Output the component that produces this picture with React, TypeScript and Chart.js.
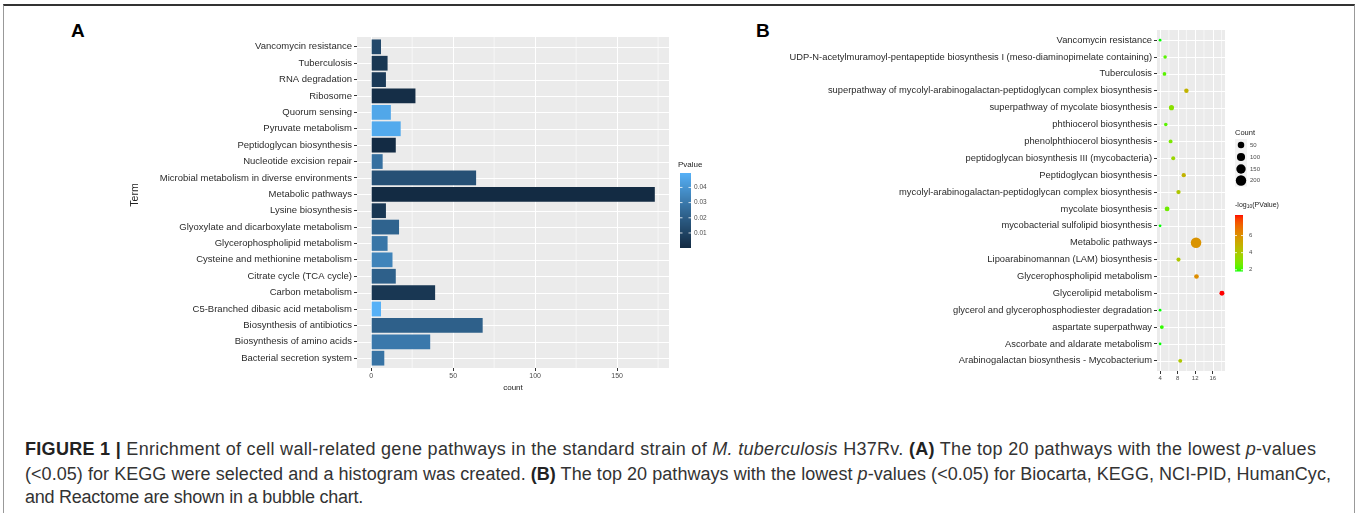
import React, { useEffect, useRef } from "react";
import { Chart, registerables } from "chart.js";
Chart.register(...registerables);

// ---------------- Data: panel A (KEGG histogram) ----------------
const termsA = [
  "Vancomycin resistance",
  "Tuberculosis",
  "RNA degradation",
  "Ribosome",
  "Quorum sensing",
  "Pyruvate metabolism",
  "Peptidoglycan biosynthesis",
  "Nucleotide excision repair",
  "Microbial metabolism in diverse environments",
  "Metabolic pathways",
  "Lysine biosynthesis",
  "Glyoxylate and dicarboxylate metabolism",
  "Glycerophospholipid metabolism",
  "Cysteine and methionine metabolism",
  "Citrate cycle (TCA cycle)",
  "Carbon metabolism",
  "C5-Branched dibasic acid metabolism",
  "Biosynthesis of antibiotics",
  "Biosynthesis of amino acids",
  "Bacterial secretion system",
];
const countA = [6, 10, 9, 27, 12, 18, 15, 7, 64, 173, 9, 17, 10, 13, 15, 39, 6, 68, 36, 8];
const pvalueA = [
  0.012, 0.005, 0.0065, 0.0015, 0.046, 0.047, 0.0003, 0.027, 0.015, 0.0001,
  0.005, 0.022, 0.029, 0.034, 0.021, 0.005, 0.0495, 0.021, 0.03, 0.028,
];
const countTicksA = [0, 50, 100, 150];
const pvalueLegendTicks = [0.01, 0.02, 0.03, 0.04];
const pvalueLegendLabels = ["0.01", "0.02", "0.03", "0.04"];

// ---------------- Data: panel B (bubble chart) ----------------
const termsB = [
  "Vancomycin resistance",
  "UDP-N-acetylmuramoyl-pentapeptide biosynthesis I (meso-diaminopimelate containing)",
  "Tuberculosis",
  "superpathway of mycolyl-arabinogalactan-peptidoglycan complex biosynthesis",
  "superpathway of mycolate biosynthesis",
  "phthiocerol biosynthesis",
  "phenolphthiocerol biosynthesis",
  "peptidoglycan biosynthesis III (mycobacteria)",
  "Peptidoglycan biosynthesis",
  "mycolyl-arabinogalactan-peptidoglycan complex biosynthesis",
  "mycolate biosynthesis",
  "mycobacterial sulfolipid biosynthesis",
  "Metabolic pathways",
  "Lipoarabinomannan (LAM) biosynthesis",
  "Glycerophospholipid metabolism",
  "Glycerolipid metabolism",
  "glycerol and glycerophosphodiester degradation",
  "aspartate superpathway",
  "Ascorbate and aldarate metabolism",
  "Arabinogalactan biosynthesis - Mycobacterium",
];
const xB = [4.0, 5.15, 5.0, 10.0, 6.6, 5.3, 6.4, 7.0, 9.4, 8.2, 5.6, 4.0, 12.2, 8.2, 12.3, 18.1, 4.0, 4.4, 4.0, 8.6];
const countB = [4, 6, 7, 14, 22, 6, 8, 9, 12, 12, 18, 4, 205, 10, 16, 20, 4, 8, 4, 9];
const logPB = [1.8, 2.3, 2.3, 4.8, 3.1, 2.3, 2.8, 3.5, 4.8, 4.1, 2.6, 1.8, 5.9, 4.1, 6.1, 8.4, 1.8, 1.95, 1.8, 4.1];
const xTicksB = [4, 8, 12, 16];
const countLegendB = [50, 100, 150, 200];
const logPLegendTicks = [2, 4, 6];

// ---------------- Helpers (styling) ----------------
const FONT = '"Liberation Sans", Arial, Helvetica, sans-serif';
Chart.defaults.font.family = FONT;

function toLin(c: number) {
  c /= 255;
  return c <= 0.04045 ? c / 12.92 : Math.pow((c + 0.055) / 1.055, 2.4);
}
function fromLin(c: number) {
  const v = c <= 0.0031308 ? 12.92 * c : 1.055 * Math.pow(c, 1 / 2.4) - 0.055;
  return Math.round(Math.max(0, Math.min(1, v)) * 255);
}
function rgbToLab(rgb: number[]) {
  const R = toLin(rgb[0]), G = toLin(rgb[1]), B = toLin(rgb[2]);
  const X = (0.4124 * R + 0.3576 * G + 0.1805 * B) / 0.95047;
  const Y = 0.2126 * R + 0.7152 * G + 0.0722 * B;
  const Z = (0.0193 * R + 0.1192 * G + 0.9505 * B) / 1.08883;
  const f = (t: number) => (t > 0.008856 ? Math.cbrt(t) : 7.787 * t + 16 / 116);
  const fx = f(X), fy = f(Y), fz = f(Z);
  return [116 * fy - 16, 500 * (fx - fy), 200 * (fy - fz)];
}
function labToRgb(lab: number[]) {
  const fy = (lab[0] + 16) / 116;
  const fx = fy + lab[1] / 500;
  const fz = fy - lab[2] / 200;
  const fi = (t: number) => (t * t * t > 0.008856 ? t * t * t : (t - 16 / 116) / 7.787);
  const X = fi(fx) * 0.95047, Y = fi(fy), Z = fi(fz) * 1.08883;
  const R = 3.2406 * X - 1.5372 * Y - 0.4986 * Z;
  const G = -0.9689 * X + 1.8758 * Y + 0.0415 * Z;
  const B = 0.0557 * X - 0.204 * Y + 1.057 * Z;
  return `rgb(${fromLin(R)},${fromLin(G)},${fromLin(B)})`;
}
function makeRamp(low: number[], high: number[]) {
  const a = rgbToLab(low), b = rgbToLab(high);
  return (t: number) => {
    const u = Math.max(0, Math.min(1, t));
    return labToRgb([a[0] + (b[0] - a[0]) * u, a[1] + (b[1] - a[1]) * u, a[2] + (b[2] - a[2]) * u]);
  };
}
const rampA = makeRamp([0x13, 0x2b, 0x43], [0x56, 0xb1, 0xf7]);
const rampB = makeRamp([0, 255, 0], [255, 0, 0]);
const pMin = Math.min(...pvalueA), pMax = Math.max(...pvalueA);
const lMin = Math.min(...logPB), lMax = Math.max(...logPB);
const cMin = Math.min(...countB), cMax = Math.max(...countB);
const colorA = (p: number) => rampA((p - pMin) / (pMax - pMin));
const colorB = (v: number) => rampB((v - lMin) / (lMax - lMin));
const radiusB = (c: number) => {
  const size = 1 + 5 * Math.sqrt(Math.max(0, (c - cMin) / (cMax - cMin)));
  return 0.78 * size + 0.6;
};

function minorBreaks(majors: number[]) {
  const step = majors[1] - majors[0];
  const out = [majors[0] - step / 2];
  majors.forEach((m) => out.push(m + step / 2));
  return out;
}

function crisp(v: number) {
  return Math.round(v) + 0.5;
}

function drawPanelGrid(chart: any, xMajors: number[], nCats: number) {
  const { ctx, chartArea, scales } = chart;
  const { left, right, top, bottom } = chartArea;
  ctx.save();
  ctx.fillStyle = "#EBEBEB";
  ctx.fillRect(left, top, right - left, bottom - top);
  ctx.strokeStyle = "#FFFFFF";
  ctx.lineWidth = 0.6;
  minorBreaks(xMajors).forEach((v) => {
    const px = scales.x.getPixelForValue(v);
    if (px > left && px < right) {
      ctx.beginPath();
      ctx.moveTo(px, top);
      ctx.lineTo(px, bottom);
      ctx.stroke();
    }
  });
  ctx.lineWidth = 1;
  xMajors.forEach((v) => {
    const px = crisp(scales.x.getPixelForValue(v));
    ctx.beginPath();
    ctx.moveTo(px, top);
    ctx.lineTo(px, bottom);
    ctx.stroke();
  });
  for (let i = 0; i < nCats; i++) {
    const py = crisp(scales.y.getPixelForValue(i));
    ctx.beginPath();
    ctx.moveTo(left, py);
    ctx.lineTo(right, py);
    ctx.stroke();
  }
  ctx.restore();
}

const panelAPlugin = {
  id: "panelA",
  beforeDatasetsDraw(chart: any) {
    drawPanelGrid(chart, countTicksA, termsA.length);
  },
  afterDraw(chart: any) {
    const ctx = chart.ctx;
    const ca = chart.chartArea;
    ctx.save();
    ctx.fillStyle = "#222";
    // axis titles
    ctx.font = `8px ${FONT}`;
    ctx.textAlign = "center";
    ctx.textBaseline = "middle";
    ctx.fillText("count", (ca.left + ca.right) / 2, 373);
    ctx.save();
    ctx.translate(75, 180);
    ctx.rotate(-Math.PI / 2);
    ctx.font = `10.5px ${FONT}`;
    ctx.fillText("Term", 0, 0);
    ctx.restore();
    // legend
    const bx = 620, bw = 11, bTop = 158, bBot = 233;
    ctx.textAlign = "left";
    ctx.font = `8px ${FONT}`;
    ctx.fillStyle = "#222";
    ctx.fillText("Pvalue", 618, 150);
    const h = bBot - bTop;
    for (let i = 0; i < h; i++) {
      const t = 1 - (i + 0.5) / h;
      ctx.fillStyle = rampA(t);
      ctx.fillRect(bx, bTop + i, bw, 1);
    }
    ctx.font = `6.5px ${FONT}`;
    pvalueLegendTicks.forEach((v, k) => {
      const y = bBot - ((v - pMin) / (pMax - pMin)) * h;
      ctx.strokeStyle = "#FFFFFF";
      ctx.lineWidth = 0.8;
      ctx.beginPath();
      ctx.moveTo(bx, y);
      ctx.lineTo(bx + 2.5, y);
      ctx.moveTo(bx + bw - 2.5, y);
      ctx.lineTo(bx + bw, y);
      ctx.stroke();
      ctx.fillStyle = "#4D4D4D";
      ctx.fillText(pvalueLegendLabels[k], bx + bw + 3, y);
    });
    ctx.restore();
  },
};

const panelBPlugin = {
  id: "panelB",
  beforeDatasetsDraw(chart: any) {
    drawPanelGrid(chart, xTicksB, termsB.length);
  },
  afterDraw(chart: any) {
    const ctx = chart.ctx;
    ctx.save();
    ctx.textAlign = "left";
    ctx.textBaseline = "middle";
    // size legend
    ctx.fillStyle = "#222";
    ctx.font = `7.5px ${FONT}`;
    ctx.fillText("Count", 480, 118);
    const ys = [130, 142, 154, 165.5];
    countLegendB.forEach((c, k) => {
      ctx.fillStyle = "#F2F2F2";
      ctx.fillRect(480, ys[k] - 6, 12, 12);
    });
    countLegendB.forEach((c, k) => {
      ctx.fillStyle = "#000";
      ctx.beginPath();
      ctx.arc(486, ys[k], radiusB(c), 0, Math.PI * 2);
      ctx.fill();
      ctx.fillStyle = "#4D4D4D";
      ctx.font = `6px ${FONT}`;
      ctx.fillText(String(c), 495, ys[k]);
    });
    // colour legend title with subscript
    ctx.fillStyle = "#222";
    let x = 480;
    const ty = 190;
    ctx.font = `7px ${FONT}`;
    ctx.fillText("-log", x, ty);
    x += ctx.measureText("-log").width;
    ctx.font = `5px ${FONT}`;
    ctx.fillText("10", x, ty + 2);
    x += ctx.measureText("10").width;
    ctx.font = `7px ${FONT}`;
    ctx.fillText("(PValue)", x, ty);
    // colour bar
    const bx = 480, bw = 8, bTop = 200, bBot = 256.5;
    const h = bBot - bTop;
    for (let i = 0; i < Math.ceil(h); i++) {
      const t = 1 - (i + 0.5) / h;
      ctx.fillStyle = rampB(t);
      ctx.fillRect(bx, bTop + i, bw, Math.min(1, bBot - bTop - i));
    }
    ctx.font = `6px ${FONT}`;
    logPLegendTicks.forEach((v) => {
      const y = bBot - ((v - lMin) / (lMax - lMin)) * h;
      ctx.strokeStyle = "#FFFFFF";
      ctx.lineWidth = 0.8;
      ctx.beginPath();
      ctx.moveTo(bx, y);
      ctx.lineTo(bx + 2, y);
      ctx.moveTo(bx + bw - 2, y);
      ctx.lineTo(bx + bw, y);
      ctx.stroke();
      ctx.fillStyle = "#4D4D4D";
      ctx.fillText(String(v), bx + bw + 6, y);
    });
    ctx.restore();
  },
};

function catAxis(labels: string[], width: number, fontSize: number) {
  return {
    type: "linear" as const,
    min: -0.6,
    max: labels.length - 0.4,
    reverse: true,
    offset: false,
    bounds: "data" as const,
    afterBuildTicks: (ax: any) => {
      ax.ticks = labels.map((_, i) => ({ value: i }));
    },
    afterFit: (ax: any) => {
      ax.width = width;
    },
    ticks: {
      autoSkip: false,
      callback: (v: any) => labels[v],
      font: { size: fontSize, family: FONT },
      color: "#2B2B2B",
      padding: 2,
    },
    grid: { offset: false, drawOnChartArea: false, drawTicks: true, tickLength: 3, color: "#333" },
    border: { display: false },
  };
}

function valAxis(min: number, max: number, ticks: number[], size: number) {
  return {
    type: "linear" as const,
    min,
    max,
    offset: false,
    bounds: "data" as const,
    afterBuildTicks: (ax: any) => {
      ax.ticks = ticks.map((v) => ({ value: v }));
    },
    afterFit: (ax: any) => {
      ax.height = 20;
    },
    ticks: {
      autoSkip: false,
      maxRotation: 0,
      font: { size, family: FONT },
      color: "#4D4D4D",
      padding: 1,
    },
    grid: { offset: false, drawOnChartArea: false, drawTicks: true, tickLength: 3, color: "#333" },
    border: { display: false },
  };
}

function PanelA() {
  const ref = useRef<HTMLCanvasElement>(null);
  useEffect(() => {
    const chart = new Chart(ref.current as HTMLCanvasElement, {
      type: "bar",
      data: {
        datasets: [
          {
            data: countA.map((c, i) => ({ x: c, y: i })) as any,
            backgroundColor: pvalueA.map(colorA),
            borderWidth: 0,
            barPercentage: 0.9,
            categoryPercentage: 1,
          },
        ],
      },
      options: {
        indexAxis: "y",
        animation: false,
        responsive: false,
        maintainAspectRatio: false,
        layout: { padding: { left: 0, top: 22, right: 71, bottom: 17 } },
        plugins: { legend: { display: false }, tooltip: { enabled: false } },
        scales: {
          x: valAxis(-8.65, 181.65, countTicksA, 7) as any,
          y: catAxis(termsA, 297, 9.5) as any,
        },
      },
      plugins: [panelAPlugin],
    });
    return () => chart.destroy();
  }, []);
  return (
    <canvas
      ref={ref}
      width={680}
      height={390}
      style={{ position: "absolute", left: 60, top: 15, width: 680, height: 390 }}
    />
  );
}

function PanelB() {
  const ref = useRef<HTMLCanvasElement>(null);
  useEffect(() => {
    const chart = new Chart(ref.current as HTMLCanvasElement, {
      type: "bubble",
      data: {
        datasets: [
          {
            data: xB.map((x, i) => ({ x, y: i, r: radiusB(countB[i]) })),
            backgroundColor: logPB.map(colorB),
            borderWidth: 0,
          },
        ],
      },
      options: {
        animation: false,
        responsive: false,
        maintainAspectRatio: false,
        layout: { padding: { left: 0, top: 15, right: 75, bottom: 14 } },
        plugins: { legend: { display: false }, tooltip: { enabled: false } },
        scales: {
          x: valAxis(3.3, 18.8, xTicksB, 6) as any,
          y: catAxis(termsB, 402, 9.35) as any,
        },
      },
      plugins: [panelBPlugin],
    });
    return () => chart.destroy();
  }, []);
  return (
    <canvas
      ref={ref}
      width={545}
      height={390}
      style={{ position: "absolute", left: 755, top: 15, width: 545, height: 390 }}
    />
  );
}

const capLine: React.CSSProperties = {
  position: "absolute",
  left: 25,
  whiteSpace: "nowrap",
  fontFamily: FONT,
  fontSize: 18,
  lineHeight: "20px",
  color: "#333",
};

export default function App() {
  return (
    <div
      style={{
        position: "absolute",
        left: 0,
        top: 0,
        width: 1358,
        height: 513,
        background: "#fff",
        overflow: "hidden",
        fontFamily: FONT,
      }}
    >
      <div
        style={{
          position: "absolute",
          left: 3,
          top: 4,
          width: 1350,
          height: 515,
          borderTop: "2px solid #333",
          borderLeft: "1px solid #999",
          borderRight: "1px solid #999",
        }}
      />
      <div style={{ position: "absolute", left: 71, top: 21, fontSize: 19, fontWeight: 700, lineHeight: "20px", color: "#000" }}>A</div>
      <div style={{ position: "absolute", left: 756, top: 21, fontSize: 19, fontWeight: 700, lineHeight: "20px", color: "#000" }}>B</div>
      <PanelA />
      <PanelB />
      <div style={{ ...capLine, top: 439, letterSpacing: "0.3px" }}>
        <b style={{ color: "#222" }}>FIGURE 1 |</b> Enrichment of cell wall-related gene pathways in the standard strain of{" "}
        <i>M. tuberculosis</i> H37Rv. <b style={{ color: "#222" }}>(A)</b> The top 20 pathways with the lowest <i>p</i>-values
      </div>
      <div style={{ ...capLine, top: 464, letterSpacing: "0.05px" }}>
        (&lt;0.05) for KEGG were selected and a histogram was created. <b style={{ color: "#222" }}>(B)</b> The top 20 pathways with the lowest{" "}
        <i>p</i>-values (&lt;0.05) for Biocarta, KEGG, NCI-PID, HumanCyc,
      </div>
      <div style={{ ...capLine, top: 487, letterSpacing: "-0.25px" }}>and Reactome are shown in a bubble chart.</div>
    </div>
  );
}
